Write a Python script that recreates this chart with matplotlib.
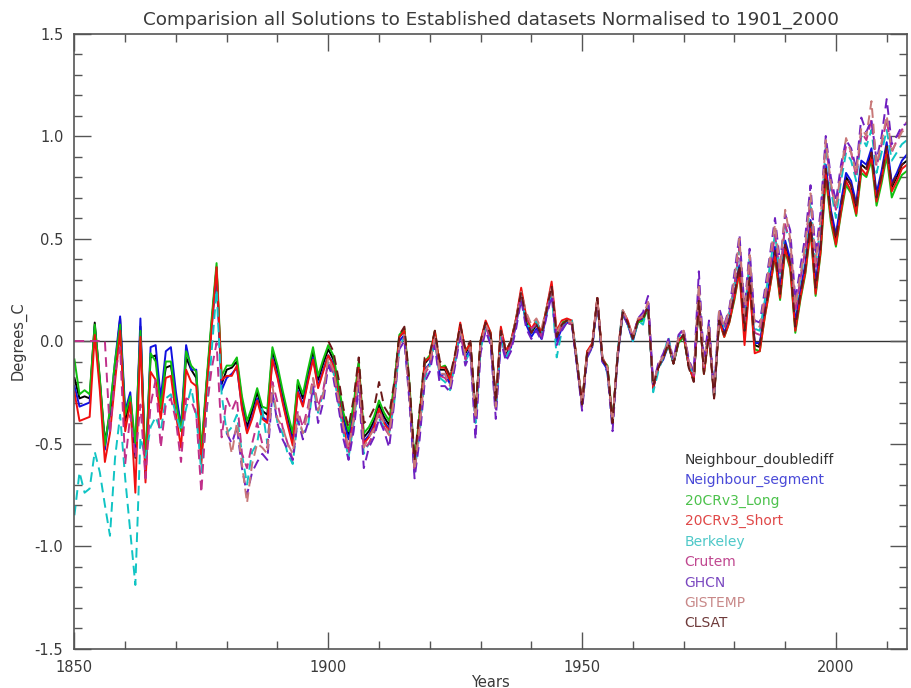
import matplotlib
matplotlib.use("Agg")
import matplotlib.pyplot as plt
from matplotlib.ticker import MultipleLocator, FuncFormatter

plt.rcParams['axes.unicode_minus'] = False
plt.rcParams['font.family'] = ['DejaVu Sans']

years = list(range(1850, 2015))
years_ghcn = list(range(1880, 2015))
years_clsat = list(range(1900, 2015))

# annual anomalies (deg C)
doublediff = [
    -0.18, -0.28, -0.27, -0.28, 0.09, -0.19, -0.49, -0.36, -0.14, 0.11,
    -0.39, -0.28, -0.57, 0.07, -0.64, -0.08, -0.07, -0.30, -0.13, -0.12,
    -0.28, -0.42, -0.08, -0.14, -0.18, -0.57, -0.22, 0.08, 0.36, -0.21,
    -0.14, -0.13, -0.10, -0.29, -0.42, -0.34, -0.25, -0.34, -0.36, -0.05,
    -0.14, -0.26, -0.37, -0.47, -0.21, -0.28, -0.16, -0.05, -0.19, -0.11,
    -0.04, -0.09, -0.23, -0.37, -0.46, -0.33, -0.11, -0.47, -0.44, -0.39,
    -0.31, -0.37, -0.41, -0.23, 0.02, 0.05, -0.23, -0.61, -0.37, -0.11,
    -0.08, 0.04, -0.14, -0.14, -0.19, -0.08, 0.07, -0.06, -0.02, -0.36,
    -0.01, 0.09, 0.03, -0.31, 0.05, -0.06, -0.01, 0.10, 0.24, 0.10,
    0.04, 0.08, 0.03, 0.15, 0.27, 0.02, 0.08, 0.10, 0.09, -0.11,
    -0.31, -0.06, -0.02, 0.21, -0.09, -0.13, -0.40, -0.07, 0.14, 0.09,
    0.01, 0.10, 0.11, 0.17, -0.23, -0.13, -0.08, -0.01, -0.11, 0.00,
    0.03, -0.12, -0.19, 0.20, -0.15, 0.05, -0.27, 0.11, 0.03, 0.10,
    0.22, 0.36, 0.04, 0.30, -0.02, -0.03, 0.14, 0.28, 0.44, 0.23,
    0.47, 0.38, 0.07, 0.23, 0.36, 0.57, 0.26, 0.46, 0.84, 0.62,
    0.50, 0.66, 0.80, 0.76, 0.65, 0.86, 0.84, 0.92, 0.70, 0.81,
    0.95, 0.75, 0.80, 0.86, 0.88,
]

segment = [
    -0.22, -0.32, -0.31, -0.30, 0.07, -0.20, -0.53, -0.34, -0.10, 0.12,
    -0.34, -0.25, -0.55, 0.11, -0.66, -0.03, -0.02, -0.28, -0.05, -0.03,
    -0.25, -0.42, -0.02, -0.14, -0.14, -0.56, -0.22, 0.06, 0.33, -0.24,
    -0.18, -0.16, -0.13, -0.32, -0.44, -0.37, -0.28, -0.37, -0.39, -0.08,
    -0.17, -0.29, -0.40, -0.49, -0.24, -0.31, -0.19, -0.08, -0.22, -0.14,
    -0.07, -0.11, -0.25, -0.39, -0.48, -0.35, -0.13, -0.49, -0.46, -0.41,
    -0.33, -0.39, -0.43, -0.26, 0.00, 0.03, -0.25, -0.63, -0.40, -0.14,
    -0.11, 0.02, -0.17, -0.16, -0.21, -0.10, 0.05, -0.08, -0.04, -0.38,
    -0.03, 0.07, 0.01, -0.33, 0.03, -0.08, -0.03, 0.08, 0.22, 0.08,
    0.02, 0.06, 0.01, 0.13, 0.25, 0.00, 0.06, 0.09, 0.08, -0.12,
    -0.31, -0.06, -0.03, 0.20, -0.10, -0.14, -0.40, -0.08, 0.13, 0.08,
    0.00, 0.09, 0.11, 0.17, -0.23, -0.13, -0.09, -0.02, -0.11, 0.00,
    0.03, -0.12, -0.18, 0.20, -0.15, 0.05, -0.26, 0.12, 0.04, 0.11,
    0.23, 0.37, 0.05, 0.31, -0.01, -0.01, 0.15, 0.30, 0.46, 0.25,
    0.49, 0.40, 0.09, 0.25, 0.38, 0.59, 0.28, 0.48, 0.86, 0.64,
    0.52, 0.68, 0.82, 0.78, 0.67, 0.88, 0.86, 0.94, 0.72, 0.83,
    0.97, 0.77, 0.82, 0.88, 0.91,
]

cr_long = [
    -0.09, -0.26, -0.24, -0.26, 0.08, -0.18, -0.51, -0.33, -0.10, 0.08,
    -0.36, -0.27, -0.50, 0.05, -0.60, -0.06, -0.10, -0.33, -0.10, -0.10,
    -0.30, -0.44, -0.05, -0.12, -0.15, -0.53, -0.20, 0.10, 0.38, -0.17,
    -0.12, -0.12, -0.08, -0.27, -0.39, -0.32, -0.23, -0.32, -0.33, -0.03,
    -0.12, -0.24, -0.35, -0.45, -0.19, -0.26, -0.14, -0.03, -0.17, -0.09,
    -0.02, -0.07, -0.21, -0.35, -0.44, -0.31, -0.10, -0.45, -0.42, -0.37,
    -0.29, -0.35, -0.39, -0.21, 0.03, 0.06, -0.21, -0.59, -0.35, -0.10,
    -0.07, 0.05, -0.13, -0.12, -0.18, -0.07, 0.08, -0.05, -0.01, -0.35,
    0.00, 0.09, 0.04, -0.30, 0.06, -0.05, 0.00, 0.11, 0.24, 0.11,
    0.05, 0.09, 0.04, 0.16, 0.26, 0.03, 0.09, 0.10, 0.09, -0.10,
    -0.30, -0.05, -0.02, 0.20, -0.09, -0.12, -0.39, -0.07, 0.13, 0.09,
    0.01, 0.09, 0.10, 0.16, -0.22, -0.13, -0.08, -0.02, -0.11, -0.01,
    0.02, -0.12, -0.19, 0.19, -0.16, 0.04, -0.27, 0.10, 0.02, 0.09,
    0.20, 0.34, 0.02, 0.28, -0.04, -0.05, 0.12, 0.26, 0.41, 0.20,
    0.44, 0.35, 0.04, 0.20, 0.33, 0.54, 0.22, 0.43, 0.80, 0.58,
    0.46, 0.62, 0.76, 0.72, 0.61, 0.82, 0.80, 0.88, 0.66, 0.77,
    0.90, 0.70, 0.76, 0.81, 0.83,
]

cr_short = [
    -0.25, -0.39, -0.38, -0.37, 0.03, -0.24, -0.59, -0.45, -0.20, 0.05,
    -0.44, -0.30, -0.74, 0.02, -0.69, -0.15, -0.19, -0.38, -0.18, -0.17,
    -0.36, -0.52, -0.14, -0.20, -0.22, -0.60, -0.26, 0.05, 0.36, -0.19,
    -0.17, -0.17, -0.12, -0.33, -0.45, -0.38, -0.29, -0.38, -0.40, -0.09,
    -0.18, -0.30, -0.41, -0.51, -0.25, -0.32, -0.20, -0.09, -0.23, -0.15,
    -0.07, -0.12, -0.27, -0.42, -0.53, -0.37, -0.13, -0.50, -0.47, -0.42,
    -0.33, -0.40, -0.44, -0.25, 0.02, 0.05, -0.25, -0.62, -0.38, -0.10,
    -0.08, 0.05, -0.13, -0.13, -0.19, -0.07, 0.09, -0.05, -0.01, -0.36,
    0.00, 0.10, 0.04, -0.30, 0.07, -0.05, 0.00, 0.11, 0.26, 0.12,
    0.06, 0.10, 0.04, 0.16, 0.29, 0.05, 0.10, 0.11, 0.10, -0.10,
    -0.30, -0.05, -0.01, 0.21, -0.08, -0.13, -0.40, -0.06, 0.15, 0.10,
    0.02, 0.10, 0.12, 0.17, -0.23, -0.13, -0.08, -0.01, -0.11, 0.00,
    0.03, -0.12, -0.19, 0.20, -0.16, 0.04, -0.28, 0.10, 0.02, 0.09,
    0.21, 0.34, -0.02, 0.28, -0.06, -0.05, 0.12, 0.26, 0.42, 0.21,
    0.45, 0.36, 0.05, 0.21, 0.34, 0.55, 0.23, 0.44, 0.82, 0.60,
    0.47, 0.63, 0.78, 0.73, 0.62, 0.84, 0.81, 0.90, 0.68, 0.79,
    0.93, 0.73, 0.78, 0.84, 0.86,
]

berkeley = [
    -0.85, -0.64, -0.74, -0.72, -0.54, -0.64, -0.80, -0.95, -0.57, -0.36,
    -0.67, -0.93, -1.19, -0.47, -0.57, -0.42, -0.37, -0.44, -0.28, -0.26,
    -0.36, -0.44, -0.33, -0.23, -0.36, -0.64, -0.36, -0.06, 0.25, -0.26,
    -0.45, -0.42, -0.36, -0.55, -0.70, -0.54, -0.50, -0.33, -0.50, -0.25,
    -0.40, -0.45, -0.55, -0.60, -0.38, -0.45, -0.42, -0.22, -0.35, -0.25,
    -0.10, -0.15, -0.30, -0.45, -0.57, -0.40, -0.20, -0.55, -0.50, -0.45,
    -0.38, -0.42, -0.45, -0.30, -0.03, 0.02, -0.28, -0.64, -0.45, -0.18,
    -0.12, 0.00, -0.18, -0.20, -0.24, -0.10, 0.05, -0.10, -0.05, -0.40,
    -0.04, 0.06, 0.00, -0.34, 0.02, -0.08, -0.03, 0.08, 0.22, 0.09,
    0.05, 0.10, 0.03, 0.13, 0.24, -0.08, 0.05, 0.10, 0.10, -0.09,
    -0.33, -0.08, -0.03, 0.19, -0.08, -0.16, -0.42, -0.05, 0.15, 0.08,
    0.00, 0.10, 0.08, 0.18, -0.25, -0.15, -0.07, 0.02, -0.11, 0.02,
    0.05, -0.11, -0.17, 0.25, -0.12, 0.08, -0.28, 0.14, 0.07, 0.14,
    0.27, 0.45, 0.12, 0.40, 0.06, 0.05, 0.20, 0.37, 0.52, 0.33,
    0.56, 0.47, 0.15, 0.30, 0.45, 0.68, 0.36, 0.57, 0.95, 0.74,
    0.60, 0.78, 0.92, 0.88, 0.78, 1.00, 0.95, 1.03, 0.82, 0.92,
    1.03, 0.88, 0.92, 0.96, 0.98,
]

crutem = [
    0.00, 0.00, 0.00, 0.00, 0.00, 0.00, 0.00, -0.45, -0.16, -0.03,
    -0.60, -0.36, -0.57, -0.31, -0.67, -0.31, -0.19, -0.52, -0.31, -0.28,
    -0.39, -0.59, -0.28, -0.29, -0.36, -0.74, -0.34, -0.14, -0.01, -0.47,
    -0.28, -0.34, -0.28, -0.55, -0.62, -0.50, -0.40, -0.50, -0.52, -0.20,
    -0.30, -0.42, -0.50, -0.58, -0.34, -0.42, -0.32, -0.18, -0.32, -0.24,
    -0.10, -0.16, -0.30, -0.44, -0.55, -0.40, -0.17, -0.53, -0.50, -0.45,
    -0.36, -0.42, -0.46, -0.28, -0.02, 0.02, -0.27, -0.64, -0.42, -0.16,
    -0.12, 0.01, -0.17, -0.18, -0.22, -0.10, 0.05, -0.09, -0.04, -0.39,
    -0.03, 0.07, 0.01, -0.33, 0.04, -0.07, -0.02, 0.09, 0.23, 0.11,
    0.06, 0.08, 0.02, 0.14, 0.26, 0.02, 0.07, 0.09, 0.08, -0.11,
    -0.32, -0.07, -0.02, 0.20, -0.09, -0.14, -0.41, -0.07, 0.14, 0.09,
    0.02, 0.11, 0.12, 0.19, -0.22, -0.12, -0.07, 0.00, -0.10, 0.02,
    0.05, -0.10, -0.17, 0.24, -0.13, 0.07, -0.27, 0.13, 0.06, 0.13,
    0.27, 0.46, 0.10, 0.38, 0.04, 0.03, 0.19, 0.35, 0.52, 0.32,
    0.57, 0.48, 0.14, 0.30, 0.45, 0.70, 0.35, 0.58, 0.97, 0.76,
    0.64, 0.82, 0.95, 0.92, 0.80, 1.02, 0.98, 1.08, 0.85, 0.96,
    1.08, 0.92, 0.98, 1.03, 1.07,
]

ghcn = [
    -0.45, -0.50, -0.42, -0.62, -0.75, -0.64, -0.59, -0.55, -0.58, -0.25,
    -0.40, -0.48, -0.53, -0.58, -0.38, -0.48, -0.40, -0.22, -0.40, -0.30,
    -0.12, -0.18, -0.32, -0.48, -0.58, -0.44, -0.22, -0.62, -0.52, -0.47,
    -0.38, -0.44, -0.52, -0.30, -0.04, 0.00, -0.30, -0.67, -0.48, -0.20,
    -0.15, -0.02, -0.22, -0.22, -0.25, -0.12, 0.02, -0.12, -0.06, -0.48,
    -0.06, 0.05, -0.02, -0.38, 0.00, -0.10, -0.05, 0.06, 0.20, 0.06,
    0.01, 0.05, 0.00, 0.12, 0.22, -0.02, 0.05, 0.09, 0.08, -0.12,
    -0.34, -0.08, -0.03, 0.19, -0.10, -0.15, -0.44, -0.08, 0.14, 0.08,
    0.01, 0.11, 0.14, 0.22, -0.21, -0.11, -0.06, 0.01, -0.09, 0.03,
    0.06, -0.09, -0.15, 0.34, -0.10, 0.10, -0.26, 0.16, 0.08, 0.16,
    0.33, 0.52, 0.16, 0.45, 0.10, 0.09, 0.25, 0.42, 0.60, 0.38,
    0.62, 0.54, 0.20, 0.36, 0.52, 0.76, 0.42, 0.64, 1.00, 0.80,
    0.68, 0.86, 0.98, 0.94, 0.84, 1.09, 1.02, 1.08, 0.88, 1.00,
    1.18, 0.96, 1.00, 1.05, 1.06,
]

gistemp = [
    -0.42, -0.55, -0.40, -0.60, -0.79, -0.60, -0.50, -0.52, -0.55, -0.22,
    -0.38, -0.42, -0.50, -0.55, -0.36, -0.45, -0.35, -0.18, -0.34, -0.26,
    -0.08, -0.14, -0.28, -0.42, -0.52, -0.38, -0.16, -0.52, -0.47, -0.43,
    -0.34, -0.40, -0.46, -0.27, -0.02, 0.03, -0.27, -0.63, -0.42, -0.15,
    -0.11, 0.02, -0.16, -0.16, -0.22, -0.08, 0.06, -0.07, -0.03, -0.38,
    -0.02, 0.08, 0.03, -0.32, 0.05, -0.05, 0.00, 0.11, 0.24, 0.14,
    0.08, 0.11, 0.06, 0.16, 0.27, 0.04, 0.09, 0.10, 0.09, -0.10,
    -0.31, -0.06, -0.02, 0.21, -0.08, -0.13, -0.40, -0.06, 0.15, 0.10,
    0.02, 0.11, 0.12, 0.19, -0.21, -0.12, -0.07, 0.00, -0.10, 0.02,
    0.05, -0.10, -0.16, 0.28, -0.12, 0.08, -0.26, 0.15, 0.07, 0.15,
    0.30, 0.50, 0.13, 0.42, 0.08, 0.07, 0.22, 0.40, 0.57, 0.35,
    0.64, 0.50, 0.17, 0.32, 0.48, 0.72, 0.38, 0.60, 0.98, 0.77,
    0.65, 0.83, 0.99, 0.92, 0.82, 1.04, 1.00, 1.17, 0.86, 0.97,
    1.10, 0.93, 0.97, 1.02, 1.04,
]

clsat = [
    0.00, -0.05, -0.18, -0.33, -0.42, -0.28, -0.08, -0.40, -0.38, -0.33,
    -0.20, -0.32, -0.36, -0.20, 0.03, 0.07, -0.20, -0.58, -0.33, -0.08,
    -0.06, 0.05, -0.10, -0.12, -0.17, -0.06, 0.08, -0.04, 0.00, -0.34,
    0.00, 0.09, 0.03, -0.30, 0.05, -0.05, 0.00, 0.10, 0.24, 0.10,
    0.04, 0.08, 0.03, 0.15, 0.27, 0.02, 0.08, 0.10, 0.09, -0.11,
    -0.31, -0.06, -0.02, 0.21, -0.09, -0.13, -0.40, -0.07, 0.14, 0.09,
    0.01, 0.10, 0.11, 0.17, -0.22, -0.13, -0.08, -0.01, -0.11, 0.00,
    0.03, -0.13, -0.20, 0.20, -0.16, 0.04, -0.28, 0.10, 0.03, 0.10,
    0.22, 0.37, 0.05, 0.31, -0.01, -0.02, 0.14, 0.28, 0.44, 0.23,
    0.47, 0.38, 0.07, 0.23, 0.36, 0.58, 0.26, 0.46, 0.84, 0.62,
    0.50, 0.66, 0.80, 0.76, 0.65, 0.86, 0.84, 0.92, 0.70, 0.81,
    0.95, 0.76, 0.81, 0.86, 0.88,
]

# name, x, y, line colour, dashed?, label colour
series = [
    ("Neighbour_doublediff", years, doublediff, "#000000", False, "#333333"),
    ("Neighbour_segment", years, segment, "#1010e0", False, "#4a4ad8"),
    ("20CRv3_Long", years, cr_long, "#10c010", False, "#4cc24c"),
    ("20CRv3_Short", years, cr_short, "#f01010", False, "#e04848"),
    ("Berkeley", years, berkeley, "#10c4c4", True, "#4ec8c8"),
    ("Crutem", years, crutem, "#c0308a", True, "#c04890"),
    ("GHCN", years_ghcn, ghcn, "#7020c0", True, "#7a48c0"),
    ("GISTEMP", years_ghcn, gistemp, "#c87878", True, "#c88888"),
    ("CLSAT", years_clsat, clsat, "#6a1818", True, "#6e3a3a"),
]

axis_grey = "#555555"
text_grey = "#3a3a3a"


def main():
    fig = plt.figure(figsize=(9.11, 6.88), dpi=100)
    ax = fig.add_axes([0.0817, 0.0574, 0.9139, 0.8939])

    ax.axhline(0, color="#333333", lw=1.0, zorder=1)

    for name, x, y, color, dashed, _ in series:
        if dashed:
            ax.plot(x, y, color=color, lw=1.4, dashes=(5, 3), zorder=2)
        else:
            ax.plot(x, y, color=color, lw=1.4, zorder=2)

    ax.set_xlim(1850, 2014)
    ax.set_ylim(-1.5, 1.5)

    ax.xaxis.set_major_locator(MultipleLocator(50))
    ax.xaxis.set_minor_locator(MultipleLocator(10))
    ax.yaxis.set_major_locator(MultipleLocator(0.5))
    ax.yaxis.set_minor_locator(MultipleLocator(0.1))
    ax.yaxis.set_major_formatter(FuncFormatter(lambda v, p: f"{v:.1f}"))

    ax.tick_params(which="both", direction="in", top=True, right=True,
                   color=axis_grey, labelcolor=text_grey, labelsize=10.5)
    ax.tick_params(which="major", length=12, width=1.0, pad=8)
    ax.tick_params(which="minor", length=6, width=1.0)
    for side in ax.spines.values():
        side.set_color(axis_grey)
        side.set_linewidth(1.2)

    ax.set_title("Comparision all Solutions to Established datasets Normalised to 1901_2000",
                 fontsize=13.2, color=text_grey, pad=6)
    ax.set_xlabel("Years", fontsize=10.5, color=text_grey, labelpad=0)
    ax.set_ylabel("Degrees_C", fontsize=10.5, color=text_grey, labelpad=6)

    # text-only legend, one coloured name per line
    for i, (name, _, _, _, _, label_color) in enumerate(series):
        ax.text(0.733, 0.3065 - i * 0.0332, name, transform=ax.transAxes,
                fontsize=10, color=label_color, va="center", ha="left")

    fig.savefig("out.png", dpi=100)


if __name__ == "__main__":
    main()
